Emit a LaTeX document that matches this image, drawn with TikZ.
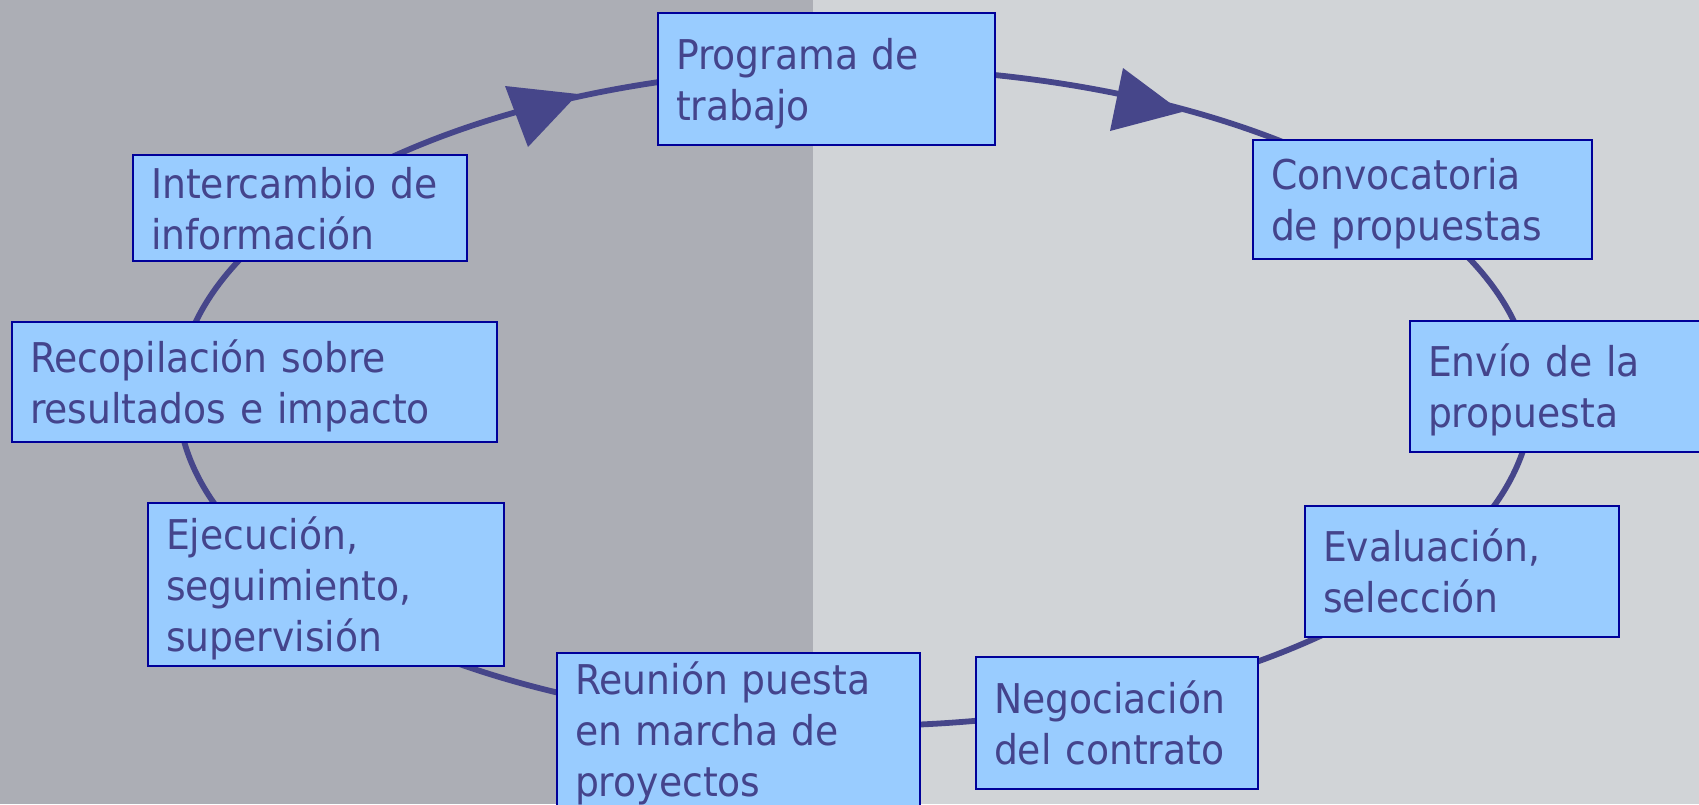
\documentclass[tikz,border=0pt]{standalone}
\usepackage{fontspec}
\setmainfont{DejaVu Sans}[FakeStretch=0.92]
\definecolor{bgdark}{RGB}{172,174,181}
\definecolor{bglight}{RGB}{209,212,215}
\definecolor{boxfill}{RGB}{153,204,255}
\definecolor{boxline}{RGB}{0,0,153}
\definecolor{txtcol}{RGB}{68,68,140}
\definecolor{conncol}{RGB}{70,70,138}
\newcommand\tstr{\rule{0pt}{41pt}}
\newcommand\bstr{\rule[-10pt]{0pt}{10pt}}
\begin{document}
\begin{tikzpicture}[x=1pt,y=-1pt,
  box/.style={draw=boxline, line width=2.8pt, fill=boxfill, text=txtcol,
    align=left, inner xsep=18pt, inner ysep=0pt,
    font=\fontsize{41}{51}\selectfont},
  conn/.style={draw=conncol, line width=5.8pt},
  head/.style={fill=conncol}]
\useasboundingbox (0,0) rectangle (1699,804);
\clip (0,0) rectangle (1699,804);
\fill[bgdark] (0,0) rectangle (813,804);
\fill[bglight] (813,0) rectangle (1699,804);
% cycle
\coordinate (c) at (855,397);
\draw[conn] (c) ellipse [x radius=677pt, y radius=329pt];
\fill[head] (505,86) -- (578,94) -- (528,147) -- cycle;
\fill[head] (1123,68) -- (1182,112) -- (1110,131) -- cycle;
% boxes
\node[box, text width=301pt, minimum height=132pt] (prog) at (826.5,79)
  {\tstr Programa de\\trabajo\bstr};
\node[box, text width=303pt, minimum height=119pt] (conv) at (1422.5,199.5)
  {\tstr Convocatoria\\de propuestas\bstr};
\node[box, text width=264pt, minimum height=131pt] (envio) at (1560,386.5)
  {\tstr Envío de la\\propuesta\bstr};
\node[box, text width=278pt, minimum height=131pt] (eval) at (1462,571.5)
  {\tstr Evaluación,\\selección\bstr};
\node[box, text width=246pt, minimum height=132pt] (nego) at (1117,723)
  {\tstr Negociación\\del contrato\bstr};
\node[box, text width=327pt, minimum height=154pt] (reun) at (738.5,730)
  {\tstr Reunión puesta\\en marcha de\\proyectos\bstr};
\node[box, text width=320pt, minimum height=163pt] (ejec) at (326,584.5)
  {\tstr Ejecución,\\seguimiento,\\supervisión\bstr};
\node[box, text width=449pt, minimum height=120pt] (reco) at (254.5,382)
  {\tstr Recopilación sobre\\resultados e impacto\bstr};
\node[box, text width=298pt, minimum height=106pt] (inter) at (300,208)
  {\tstr Intercambio de\\información\bstr};
\end{tikzpicture}
\end{document}
